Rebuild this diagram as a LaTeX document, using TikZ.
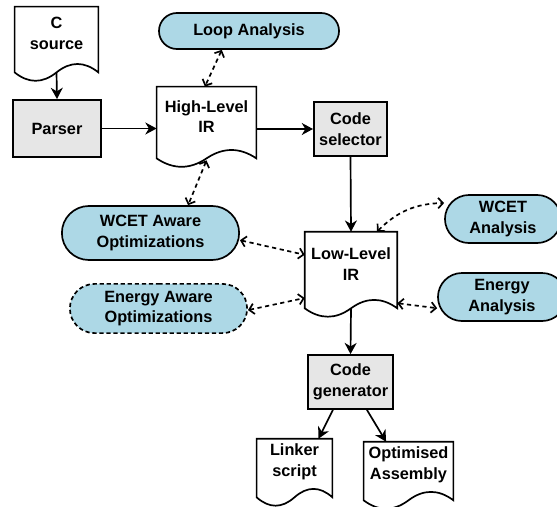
\documentclass[tikz,border=0pt]{standalone}
\usepackage{fontspec}
\setmainfont{Liberation Sans}
\usetikzlibrary{positioning,calc,arrows.meta,shapes.misc}

\definecolor{procgray}{HTML}{E6E6E6}
\definecolor{anablue}{HTML}{ADD8E6}

\tikzset{
	every node/.style={font=\fontsize{11.6}{14.8}\selectfont\bfseries, align=center, inner sep=0pt},
	proc/.style={draw, fill=procgray, line width=1.2pt},
	doc/.style={},
	ana/.style={draw, fill=anablue, line width=1.2pt, rounded rectangle},
	flow/.style={-{Stealth[length=8pt,width=8.5pt,inset=2.5pt]}, line width=1.2pt},
	link/.style={{Straight Barb[length=3.5pt,width=7.5pt]}-{Straight Barb[length=3.5pt,width=7.5pt]}, line width=1.2pt, dash pattern=on 3pt off 2.5pt},
}

% document outline with wavy bottom, base line 0.3cm below the text box
\newcommand{\docoutline}[1]{%
	\coordinate (#1-sw) at ($(#1.south west)+(0,-0.3cm)$);
	\coordinate (#1-se) at ($(#1.south east)+(0,-0.3cm)$);
	\coordinate (#1-base) at ($(#1.south)+(0,-0.3cm)$);
	\draw[line width=1.2pt] (#1-sw) -- (#1.north west) -- (#1.north east) -- (#1-se)
		.. controls ($(#1-sw)!5/6!(#1-se)+(0,0.28cm)$) and ($(#1-sw)!2/3!(#1-se)+(0,0.28cm)$) .. (#1-base)
		.. controls ($(#1-sw)!1/3!(#1-se)+(0,-0.28cm)$) and ($(#1-sw)!1/6!(#1-se)+(0,-0.28cm)$) .. cycle;}

\begin{document}
\begin{tikzpicture}[x=0.025cm, y=-0.025cm]
	\useasboundingbox (0,0) rectangle (557,506);

	% documents
	\node[doc, minimum width=2.08cm, minimum height=1.33cm] (src) at (56.5,33.5) {C\\source};
	\node[doc, minimum width=2.48cm, minimum height=1.48cm] (hir) at (206.5,116.5) {High-Level\\IR};
	\node[doc, minimum width=2.30cm, minimum height=1.60cm] (llir) at (351,264) {Low-Level\\IR};
	\node[doc, minimum width=1.88cm, minimum height=1.15cm] (linker) at (294.5,462) {Linker\\script};
	\node[doc, minimum width=2.23cm, minimum height=1.15cm] (asm) at (408.5,465) {Optimised\\Assembly};
	\foreach \d in {src,hir,llir,linker,asm}
		\docoutline{\d};

	% compiler stages
	\node[proc, minimum width=2.20cm, minimum height=1.43cm] (parser) at (57,128.5) {Parser};
	\node[proc, minimum width=1.83cm, minimum height=1.35cm] (csel) at (350.5,129) {Code\\selector};
	\node[proc, minimum width=2.13cm, minimum height=1.35cm] (cgen) at (350.5,382) {Code\\generator};

	% analyses and optimizations
	\node[ana, minimum width=4.50cm, minimum height=0.90cm] (loop) at (249,31) {Loop Analysis};
	\node[ana, minimum width=4.43cm, minimum height=1.35cm] (wcetopt) at (150.5,233) {WCET Aware\\Optimizations};
	\node[ana, dash pattern=on 3pt off 2pt, minimum width=4.43cm, minimum height=1.23cm] (enopt) at (158.5,308.5) {Energy Aware\\Optimizations};
	\node[ana, minimum width=2.90cm, minimum height=1.20cm] (wcetan) at (503,219) {WCET\\Analysis};
	\node[ana, minimum width=3.20cm, minimum height=1.20cm] (enan) at (502,297) {Energy\\Analysis};

	% main flow
	\draw[flow] (src-base) -- (parser.north);
	\draw[flow] (parser.east) -- (parser.east -| hir.west);
	\draw[flow] (hir.east |- csel.west) -- (csel.west);
	\draw[flow] (csel.south) -- (llir.north);
	\draw[flow] (llir-base) -- (cgen.north);
	\draw[flow] ([xshift=-0.44cm]cgen.south) -- ([xshift=0.6cm]linker.north);
	\draw[flow] ([xshift=0.41cm]cgen.south) -- ([xshift=-0.56cm]asm.north);

	% exchanges
	\draw[link] ([xshift=-0.68cm]loop.south) -- ([xshift=-0.04cm]hir.north);
	\draw[link] ([yshift=-0.05cm]hir-base) -- ([xshift=0.94cm]wcetopt.north);
	\draw[link] ([yshift=-0.18cm]wcetopt.east) -- ([yshift=0.23cm]llir.west);
	\draw[link] ([yshift=-0.04cm]enopt.east) -- ([yshift=-0.85cm]llir.west);
	\draw[link] ([xshift=0.65cm]llir.north) to[bend left=22] ([yshift=0.40cm]wcetan.west);
	\draw[link] ([yshift=-0.98cm]llir.east) -- ([yshift=-0.28cm]enan.west);
\end{tikzpicture}
\end{document}
